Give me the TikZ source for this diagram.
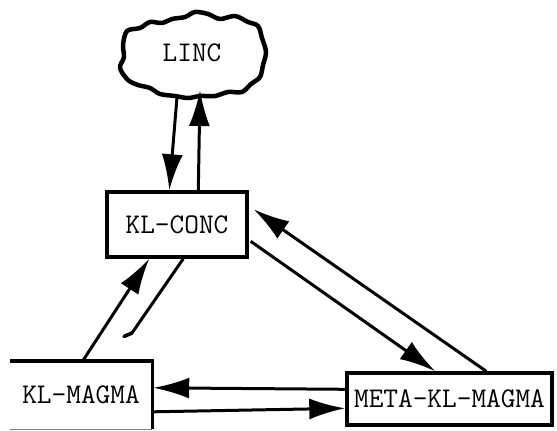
\documentclass[tikz,border=0pt]{standalone}
\usetikzlibrary{arrows.meta,calc}
\begin{document}
\begin{tikzpicture}[x=1pt,y=-1pt,
  lbl/.style={font=\fontsize{28.5}{28.5}\selectfont\ttfamily},
  box/.style={lbl,draw,line width=3.4pt,inner sep=0pt},
  link/.style={line width=3pt,-{Latex[length=36pt,width=21pt]}},
  plain/.style={line width=3pt}]
\useasboundingbox (0,0) rectangle (557,431);

% the cloud
\draw[line width=4.5pt,line join=round]
  plot[smooth cycle,tension=0.55] coordinates {
   (123,45) (127,31) (140,28) (150,22) (162,23) (172,19) (185,17) (195,12)
   (208,14) (220,19) (235,16) (248,22) (258,26) (262,38) (266,52) (263,65)
   (260,77) (251,84) (242,92) (228,92) (215,96) (200,96) (188,98) (175,96)
   (160,94) (150,88) (138,85) (128,80) (120,68) (124,57)};
\node[lbl] (linc) at (192,53) {LINC};
\coordinate (lincA) at (177,97);
\coordinate (lincB) at (200,90);

% boxes
\node[box,minimum width=140pt,minimum height=65pt] (kconc) at (177,224.5) {KL-CONC};
\node[lbl,inner sep=0pt,minimum width=142pt,minimum height=68pt] (kmag) at (81,395) {KL-MAGMA};
\draw[line width=3.4pt] (kmag.north west) -- (kmag.north east) -- (kmag.south east);
\draw[line width=1pt,gray] (kmag.south west) -- (kmag.south east);
\node[box,minimum width=205pt,minimum height=52pt] (meta) at (449.5,399) {META-KL-MAGMA};

% LINC <-> KL-CONC
\draw[link] (lincA) -- ($(kconc.north west)+(64,0)$);
\draw[link] ($(kconc.north west)+(93,0)$) -- (lincB);

% KL-MAGMA <-> KL-CONC
\draw[link] ($(kmag.north west)+(73,0)$) -- ($(kconc.south west)+(44,0)$);
\coordinate (hook) at (132,333);
\draw[plain] ($(kconc.south west)+(78,0)$) -- (hook);
\draw[line width=3.6pt,line cap=round] (hook) -- ++(-8,3.5);

% KL-CONC <-> META-KL-MAGMA
\draw[link] ($(meta.north west)+(141,0)$) -- ($(kconc.north east)+(5,19)$);
\draw[link] ($(kconc.north east)+(2,51)$) -- ($(meta.north west)+(90,0)$);

% KL-MAGMA <-> META-KL-MAGMA
\draw[link] ($(meta.north west)+(0,18)$) -- ($(kmag.north east)+(1,27)$);
\draw[link] ($(kmag.north east)+(1,51)$) -- ($(meta.north west)+(0,37)$);
\end{tikzpicture}
\end{document}
